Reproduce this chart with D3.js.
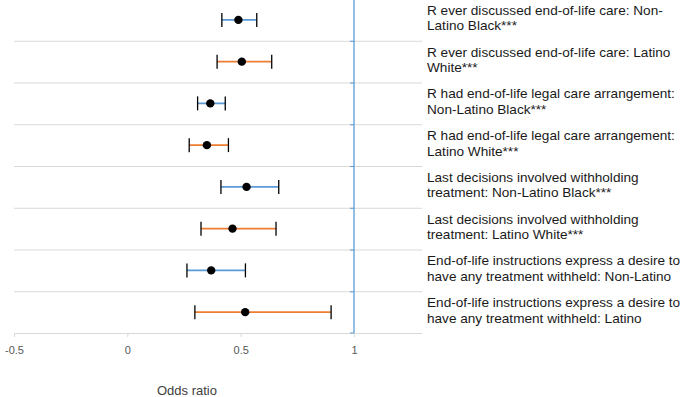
<!DOCTYPE html>
<html>
<head>
<meta charset="utf-8">
<script src="https://d3js.org/d3.v7.min.js"></script>
<style>
  html, body { margin: 0; padding: 0; background: #fff; }
  svg { display: block; font-family: "Liberation Sans", Arial, sans-serif; }
</style>
</head>
<body>
<div id="chart"></div>
<script>
// =========================================
// Data
// =========================================
const labels = [
  ['R ever discussed end-of-life care: Non-', 'Latino Black***'],
  ['R ever discussed end-of-life care: Latino', 'White***'],
  ['R had end-of-life legal care arrangement:', 'Non-Latino Black***'],
  ['R had end-of-life legal care arrangement:', 'Latino White***'],
  ['Last decisions involved withholding', 'treatment: Non-Latino Black***'],
  ['Last decisions involved withholding', 'treatment: Latino White***'],
  ['End-of-life instructions express a desire to', 'have any treatment withheld: Non-Latino'],
  ['End-of-life instructions express a desire to', 'have any treatment withheld: Latino']
];
const groups = ['Non-Latino Black', 'Latino White', 'Non-Latino Black', 'Latino White',
                'Non-Latino Black', 'Latino White', 'Non-Latino Black', 'Latino White'];
const oddsRatio = [0.49, 0.505, 0.366, 0.351, 0.526, 0.464, 0.37, 0.52];
const lowerCI   = [0.417, 0.396, 0.31, 0.273, 0.413, 0.325, 0.263, 0.298];
const upperCI   = [0.571, 0.637, 0.432, 0.446, 0.668, 0.656, 0.521, 0.899];
const xTicks = [-0.5, 0, 0.5, 1];
const xTickLabels = ['-0.5', '0', '0.5', '1'];
const refValue = 1;

(function() {
  'use strict';

  const width = 683, height = 397;
  const plot = { left: 14, right: 422, top: -1, bottom: 333 };

  const colors = { 'Non-Latino Black': '#5b9bd5', 'Latino White': '#ed7d31' };

  const rows = labels.map((lab, i) => ({
    i, lab, group: groups[i], est: oddsRatio[i], lo: lowerCI[i], hi: upperCI[i]
  }));

  const svg = d3.select('#chart').append('svg')
    .attr('width', width)
    .attr('height', height);

  // scales
  const x = d3.scaleLinear().domain([-0.5, 1.3]).range([plot.left, plot.right]);
  const y = d3.scaleBand().domain(rows.map(d => d.i)).range([plot.top, plot.bottom]);

  // gridlines between rows
  svg.append('g').selectAll('line')
    .data(rows.slice(1))
    .enter().append('line')
    .attr('x1', plot.left).attr('x2', plot.right)
    .attr('y1', d => y(d.i) + 0.5).attr('y2', d => y(d.i) + 0.5)
    .attr('stroke', '#d9d9d9').attr('stroke-width', 1);

  // x axis
  const xAxis = svg.append('g')
    .attr('transform', `translate(0,${plot.bottom})`)
    .call(d3.axisBottom(x).tickValues(xTicks).tickSize(4)
      .tickFormat((d, k) => xTickLabels[k]));
  xAxis.select('.domain').attr('stroke', '#d9d9d9').attr('d', `M${plot.left},0.5H${plot.right}`);
  xAxis.selectAll('.tick line').attr('stroke', '#d9d9d9');
  xAxis.selectAll('.tick text')
    .attr('fill', '#595959')
    .attr('y', 13)
    .style('font-size', '11px')
    .style('font-family', '"Liberation Sans", Arial, sans-serif');

  // reference line at odds ratio 1 (acts as y axis)
  svg.append('line')
    .attr('x1', x(refValue)).attr('x2', x(refValue))
    .attr('y1', plot.top).attr('y2', plot.bottom)
    .attr('stroke', '#5b9bd5').attr('stroke-width', 1.3);

  svg.append('g').selectAll('line')
    .data(rows.slice(1).concat([{ i: 'end' }]))
    .enter().append('line')
    .attr('x1', x(refValue) - 4).attr('x2', x(refValue))
    .attr('y1', d => d.i === 'end' ? plot.bottom : y(d.i) + 0.5)
    .attr('y2', d => d.i === 'end' ? plot.bottom : y(d.i) + 0.5)
    .attr('stroke', '#5b9bd5').attr('stroke-width', 1);

  // confidence intervals
  const cy = d => y(d.i) + y.bandwidth() / 2;

  const ci = svg.append('g').selectAll('g')
    .data(rows)
    .enter().append('g');

  ci.append('line')
    .attr('x1', d => x(d.lo)).attr('x2', d => x(d.hi))
    .attr('y1', cy).attr('y2', cy)
    .attr('stroke', d => colors[d.group]).attr('stroke-width', 1.8);

  ['lo', 'hi'].forEach(k => {
    ci.append('line')
      .attr('x1', d => x(d[k])).attr('x2', d => x(d[k]))
      .attr('y1', d => cy(d) - 7).attr('y2', d => cy(d) + 7)
      .attr('stroke', '#000').attr('stroke-width', 1.3);
  });

  ci.append('circle')
    .attr('cx', d => x(d.est)).attr('cy', cy)
    .attr('r', 4.2)
    .attr('fill', '#000');

  // row labels on the right
  const lbl = svg.append('g').selectAll('text')
    .data(rows)
    .enter().append('text')
    .attr('x', 427)
    .attr('y', d => cy(d) - 5)
    .attr('fill', '#1a1a1a')
    .style('font-size', '13.6px');

  lbl.append('tspan').attr('x', 427).text(d => d.lab[0]);
  lbl.append('tspan').attr('x', 427).attr('dy', 15.5).text(d => d.lab[1]);

  // axis title
  svg.append('text')
    .attr('x', 187).attr('y', 395)
    .attr('text-anchor', 'middle')
    .attr('fill', '#404040')
    .style('font-size', '13px')
    .text('Odds ratio');
})();
</script>
</body>
</html>
